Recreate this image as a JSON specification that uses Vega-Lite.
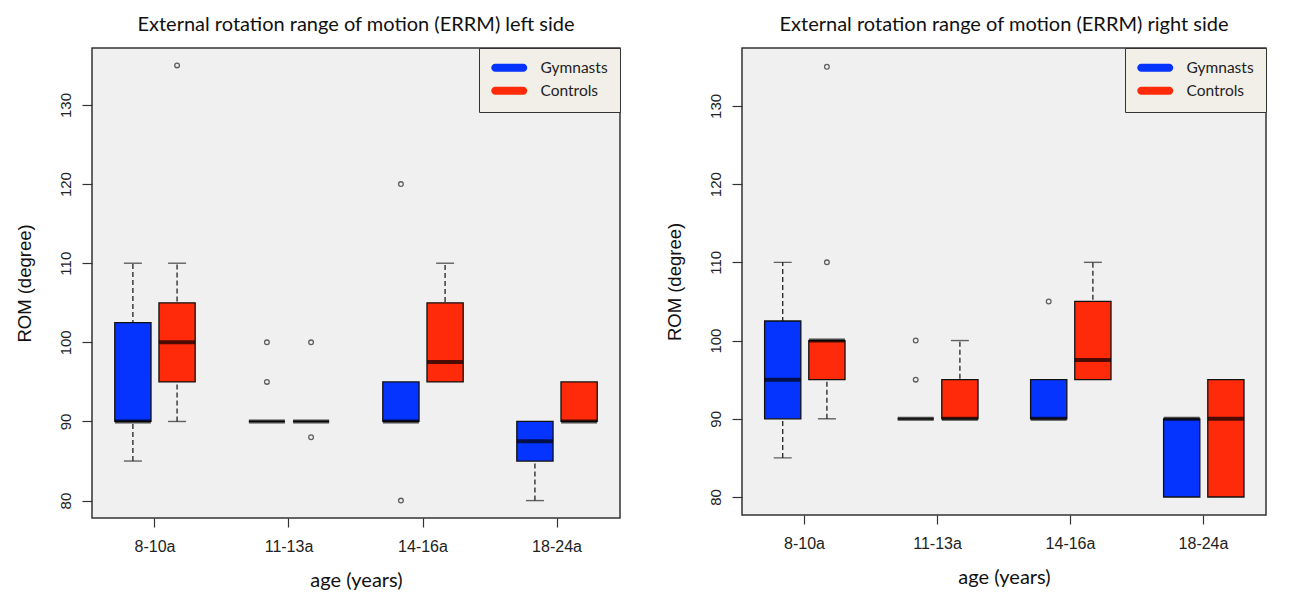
{
  "$schema": "https://vega.github.io/schema/vega-lite/v6.json",
  "background": "white",
  "padding": {"left": 14, "top": 13, "right": 38, "bottom": 1},
  "datasets": {
    "stats": [
      {"side": "left", "age": "8-10a", "group": "Gymnasts", "low": 85, "q1": 90, "med": 90, "q3": 102.5, "high": 110},
      {"side": "left", "age": "8-10a", "group": "Controls", "low": 90, "q1": 95, "med": 100, "q3": 105, "high": 110},
      {"side": "left", "age": "11-13a", "group": "Gymnasts", "low": 90, "q1": 90, "med": 90, "q3": 90, "high": 90},
      {"side": "left", "age": "11-13a", "group": "Controls", "low": 90, "q1": 90, "med": 90, "q3": 90, "high": 90},
      {"side": "left", "age": "14-16a", "group": "Gymnasts", "low": 90, "q1": 90, "med": 90, "q3": 95, "high": 95},
      {"side": "left", "age": "14-16a", "group": "Controls", "low": 95, "q1": 95, "med": 97.5, "q3": 105, "high": 110},
      {"side": "left", "age": "18-24a", "group": "Gymnasts", "low": 80, "q1": 85, "med": 87.5, "q3": 90, "high": 90},
      {"side": "left", "age": "18-24a", "group": "Controls", "low": 90, "q1": 90, "med": 90, "q3": 95, "high": 95},
      {"side": "right", "age": "8-10a", "group": "Gymnasts", "low": 85, "q1": 90, "med": 95, "q3": 102.5, "high": 110},
      {"side": "right", "age": "8-10a", "group": "Controls", "low": 90, "q1": 95, "med": 100, "q3": 100, "high": 100},
      {"side": "right", "age": "11-13a", "group": "Gymnasts", "low": 90, "q1": 90, "med": 90, "q3": 90, "high": 90},
      {"side": "right", "age": "11-13a", "group": "Controls", "low": 90, "q1": 90, "med": 90, "q3": 95, "high": 100},
      {"side": "right", "age": "14-16a", "group": "Gymnasts", "low": 90, "q1": 90, "med": 90, "q3": 95, "high": 95},
      {"side": "right", "age": "14-16a", "group": "Controls", "low": 95, "q1": 95, "med": 97.5, "q3": 105, "high": 110},
      {"side": "right", "age": "18-24a", "group": "Gymnasts", "low": 80, "q1": 80, "med": 90, "q3": 90, "high": 90},
      {"side": "right", "age": "18-24a", "group": "Controls", "low": 80, "q1": 80, "med": 90, "q3": 95, "high": 95}
    ],
    "outliers": [
      {"side": "left", "age": "8-10a", "group": "Controls", "value": 135},
      {"side": "left", "age": "11-13a", "group": "Gymnasts", "value": 100},
      {"side": "left", "age": "11-13a", "group": "Gymnasts", "value": 95},
      {"side": "left", "age": "11-13a", "group": "Controls", "value": 100},
      {"side": "left", "age": "11-13a", "group": "Controls", "value": 88},
      {"side": "left", "age": "14-16a", "group": "Gymnasts", "value": 120},
      {"side": "left", "age": "14-16a", "group": "Gymnasts", "value": 80},
      {"side": "right", "age": "8-10a", "group": "Controls", "value": 135},
      {"side": "right", "age": "8-10a", "group": "Controls", "value": 110},
      {"side": "right", "age": "11-13a", "group": "Gymnasts", "value": 100},
      {"side": "right", "age": "11-13a", "group": "Gymnasts", "value": 95},
      {"side": "right", "age": "14-16a", "group": "Gymnasts", "value": 105}
    ]
  },
  "config": {
    "view": {"fill": "#f0f0f0", "stroke": "#333333", "strokeWidth": 1.5},
    "axis": {
      "domain": false,
      "grid": false,
      "tickColor": "#333333",
      "tickWidth": 1.2,
      "labelColor": "#222222",
      "labelFont": "Liberation Sans",
      "titleColor": "#111111",
      "titleFontWeight": "normal"
    },
    "title": {"font": "Lato", "fontSize": 20, "fontWeight": "normal", "color": "#111111", "offset": 13},
    "legend": {
      "orient": "top-right",
      "offset": 0,
      "padding": 12,
      "strokeColor": "#333333",
      "fillColor": "#f2efe9",
      "title": null,
      "labelFont": "Lato",
      "labelFontSize": 15.5,
      "labelColor": "#222222",
      "labelOffset": 34,
      "rowPadding": 6,
      "symbolSize": 225,
      "symbolType": "M-0.47,-0.53 L3.27,-0.53 A0.53,0.53 0 0 1 3.27,0.53 L-0.47,0.53 A0.53,0.53 0 0 1 -0.47,-0.53 Z",
      "symbolStrokeWidth": 0,
      "symbolOpacity": 1
    }
  },
  "resolve": {"legend": {"color": "independent"}, "scale": {"color": "independent"}},
  "spacing": 42,
  "hconcat": [
    {
      "title": "External rotation range of motion (ERRM) left side",
      "width": 528,
      "height": 470,
      "encoding": {
        "x": {"field": "age", "type": "nominal", "sort": ["8-10a", "11-13a", "14-16a", "18-24a"],
          "scale": {"paddingInner": 0.4, "paddingOuter": 0.17},
          "axis": {"title": "age (years)", "labelAngle": 0, "labelFontSize": 16, "tickSize": 9, "labelPadding": 11, "titlePadding": 16, "titleFont": "Lato", "titleFontSize": 20}},
        "xOffset": {"field": "group", "type": "nominal", "sort": ["Gymnasts", "Controls"], "scale": {"paddingInner": 0.18, "paddingOuter": 0}}
      },
      "layer": [
        {
          "data": {"name": "stats"},
          "transform": [{"filter": "datum.side === 'left'"}],
          "mark": {"type": "rule", "strokeDash": [5, 3], "strokeWidth": 1.3, "color": "#222222"},
          "encoding": {
            "y": {"field": "low", "type": "quantitative", "scale": {"domain": [77.8, 137.2], "nice": false, "zero": false},
              "axis": {"title": "ROM (degree)", "values": [80, 90, 100, 110, 120, 130], "labelAngle": -90, "labelAlign": "center", "labelBaseline": "bottom", "labelFontSize": 15, "tickSize": 10, "labelPadding": 9, "titlePadding": 24, "titleFont": "Liberation Sans", "titleFontSize": 18.5}},
            "y2": {"field": "high"}
          }
        },
        {
          "data": {"name": "stats"},
          "transform": [{"filter": "datum.side === 'left' && datum.low < datum.q1"}],
          "mark": {"type": "tick", "size": 18, "thickness": 1.4, "color": "#222222"},
          "encoding": {"y": {"field": "low", "type": "quantitative"}}
        },
        {
          "data": {"name": "stats"},
          "transform": [{"filter": "datum.side === 'left' && datum.high > datum.q3"}],
          "mark": {"type": "tick", "size": 18, "thickness": 1.4, "color": "#222222"},
          "encoding": {"y": {"field": "high", "type": "quantitative"}}
        },
        {
          "data": {"name": "stats"},
          "transform": [{"filter": "datum.side === 'left'"}],
          "mark": {"type": "bar", "stroke": "#111111", "strokeWidth": 1.3},
          "encoding": {
            "y": {"field": "q1", "type": "quantitative"},
            "y2": {"field": "q3"},
            "color": {"field": "group", "type": "nominal", "sort": ["Gymnasts", "Controls"],
              "scale": {"domain": ["Gymnasts", "Controls"], "range": ["#0533ff", "#ff2a0a"]},
              "legend": {"values": ["Gymnasts", "Controls"]}}
          }
        },
        {
          "data": {"name": "stats"},
          "transform": [{"filter": "datum.side === 'left'"}],
          "mark": {"type": "tick", "size": 36, "thickness": 4, "color": "#000000"},
          "encoding": {"y": {"field": "med", "type": "quantitative"}}
        },
        {
          "data": {"name": "outliers"},
          "transform": [{"filter": "datum.side === 'left'"}],
          "mark": {"type": "point", "shape": "circle", "filled": false, "size": 22, "strokeWidth": 1.3, "color": "#222222"},
          "encoding": {"y": {"field": "value", "type": "quantitative"}}
        }
      ]
    },
    {
      "title": "External rotation range of motion (ERRM) right side",
      "width": 524,
      "height": 467,
      "encoding": {
        "x": {"field": "age", "type": "nominal", "sort": ["8-10a", "11-13a", "14-16a", "18-24a"],
          "scale": {"paddingInner": 0.4, "paddingOuter": 0.17},
          "axis": {"title": "age (years)", "labelAngle": 0, "labelFontSize": 16, "tickSize": 9, "labelPadding": 11, "titlePadding": 16, "titleFont": "Lato", "titleFontSize": 20}},
        "xOffset": {"field": "group", "type": "nominal", "sort": ["Gymnasts", "Controls"], "scale": {"paddingInner": 0.18, "paddingOuter": 0}}
      },
      "layer": [
        {
          "data": {"name": "stats"},
          "transform": [{"filter": "datum.side === 'right'"}],
          "mark": {"type": "rule", "strokeDash": [5, 3], "strokeWidth": 1.3, "color": "#222222"},
          "encoding": {
            "y": {"field": "low", "type": "quantitative", "scale": {"domain": [77.7, 137.4], "nice": false, "zero": false},
              "axis": {"title": "ROM (degree)", "values": [80, 90, 100, 110, 120, 130], "labelAngle": -90, "labelAlign": "center", "labelBaseline": "bottom", "labelFontSize": 15, "tickSize": 10, "labelPadding": 9, "titlePadding": 24, "titleFont": "Liberation Sans", "titleFontSize": 18.5}},
            "y2": {"field": "high"}
          }
        },
        {
          "data": {"name": "stats"},
          "transform": [{"filter": "datum.side === 'right' && datum.low < datum.q1"}],
          "mark": {"type": "tick", "size": 18, "thickness": 1.4, "color": "#222222"},
          "encoding": {"y": {"field": "low", "type": "quantitative"}}
        },
        {
          "data": {"name": "stats"},
          "transform": [{"filter": "datum.side === 'right' && datum.high > datum.q3"}],
          "mark": {"type": "tick", "size": 18, "thickness": 1.4, "color": "#222222"},
          "encoding": {"y": {"field": "high", "type": "quantitative"}}
        },
        {
          "data": {"name": "stats"},
          "transform": [{"filter": "datum.side === 'right'"}],
          "mark": {"type": "bar", "stroke": "#111111", "strokeWidth": 1.3},
          "encoding": {
            "y": {"field": "q1", "type": "quantitative"},
            "y2": {"field": "q3"},
            "color": {"field": "group", "type": "nominal", "sort": ["Gymnasts", "Controls"],
              "scale": {"domain": ["Gymnasts", "Controls"], "range": ["#0533ff", "#ff2a0a"]},
              "legend": {"values": ["Gymnasts", "Controls"]}}
          }
        },
        {
          "data": {"name": "stats"},
          "transform": [{"filter": "datum.side === 'right'"}],
          "mark": {"type": "tick", "size": 36, "thickness": 4, "color": "#000000"},
          "encoding": {"y": {"field": "med", "type": "quantitative"}}
        },
        {
          "data": {"name": "outliers"},
          "transform": [{"filter": "datum.side === 'right'"}],
          "mark": {"type": "point", "shape": "circle", "filled": false, "size": 22, "strokeWidth": 1.3, "color": "#222222"},
          "encoding": {"y": {"field": "value", "type": "quantitative"}}
        }
      ]
    }
  ]
}
